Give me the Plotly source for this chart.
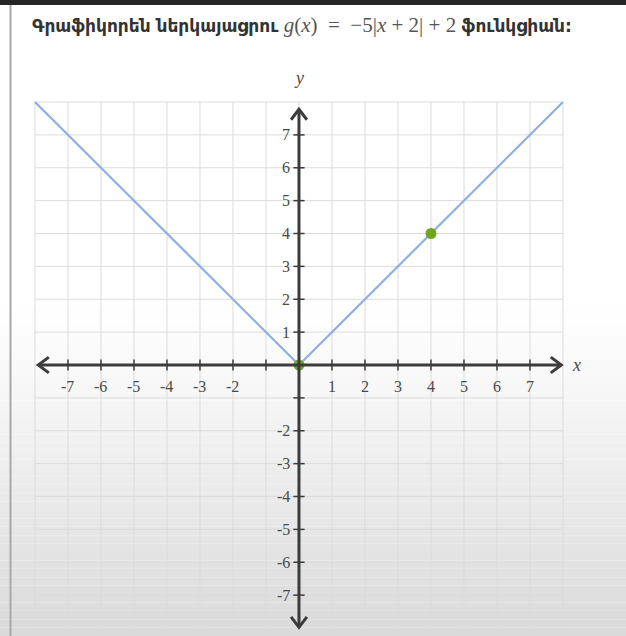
import plotly.graph_objects as go

# Graph of y = |x| with two highlighted points
line_x = [-8, 0, 8]
line_y = [8, 0, 8]
point_x = [0, 4]
point_y = [0, 4]

grid_vals = list(range(-8, 9))
x_tick_vals = [-7, -6, -5, -4, -3, -2, 1, 2, 3, 4, 5, 6, 7]
y_tick_vals = [7, 6, 5, 4, 3, 2, 1, -2, -3, -4, -5, -6, -7]
tick_marks = [v for v in range(-7, 8) if v != 0]

GRID = "#dcdcdc"
AXIS = "#3c3c3c"
LABEL = "#4a4a4a"
SERIF = "Liberation Serif, DejaVu Serif, serif"

W, H = 626, 636
X0, X1 = -9.06, 9.91
Y0, Y1 = -8.243, 11.103

fig = go.Figure()

shapes = []

# soft grey fade towards the bottom of the frame
n_bands = 40
top_px, bot_px = 300, H
for i in range(n_bands):
    t = i / (n_bands - 1)
    g = int(round(255 - 37 * t ** 1.1))
    y_top = 1 - (top_px + (bot_px - top_px) * i / n_bands) / H
    y_bot = 1 - (top_px + (bot_px - top_px) * (i + 1) / n_bands) / H
    shapes.append(dict(type="rect", xref="paper", yref="paper", x0=0, x1=1,
                       y0=y_bot, y1=y_top, line=dict(width=0),
                       fillcolor=f"rgb({g},{g},{g+1})", layer="below"))

# frame edges
shapes.append(dict(type="rect", xref="paper", yref="paper", x0=0, x1=1,
                   y0=1 - 5 / H, y1=1, line=dict(width=0),
                   fillcolor="#262626", layer="below"))
shapes.append(dict(type="line", xref="paper", yref="paper", x0=10.5 / W, x1=10.5 / W,
                   y0=0, y1=1 - 5 / H, line=dict(color="#a8a8a8", width=2),
                   layer="below"))

# grid
for v in grid_vals:
    shapes.append(dict(type="line", x0=v, x1=v, y0=-8, y1=8,
                       line=dict(color=GRID, width=1), layer="below"))
    shapes.append(dict(type="line", x0=-8, x1=8, y0=v, y1=v,
                       line=dict(color=GRID, width=1), layer="below"))

# axes
shapes.append(dict(type="line", x0=-7.9, x1=7.95, y0=0, y1=0,
                   line=dict(color=AXIS, width=3)))
shapes.append(dict(type="line", x0=0, x1=0, y0=-7.98, y1=7.78,
                   line=dict(color=AXIS, width=3)))

# tick crossbars
for v in tick_marks:
    shapes.append(dict(type="line", x0=v, x1=v, y0=-0.17, y1=0.17,
                       line=dict(color=AXIS, width=1.5)))
    shapes.append(dict(type="line", x0=-0.17, x1=0.17, y0=v, y1=v,
                       line=dict(color=AXIS, width=1.5)))

fig.update_layout(shapes=shapes)

# arrowheads at the axis ends
def chevron(tx, ty, dx, dy):
    # dx, dy: unit direction of the arrow
    back, half = 0.32, 0.24
    px, py = -dy, dx
    xs = [tx - dx * back + px * half, tx, tx - dx * back - px * half]
    ys = [ty - dy * back + py * half, ty, ty - dy * back - py * half]
    return xs, ys

for tx, ty, dx, dy in [(7.95, 0, 1, 0), (-7.9, 0, -1, 0), (0, 7.78, 0, 1), (0, -7.98, 0, -1)]:
    xs, ys = chevron(tx, ty, dx, dy)
    fig.add_trace(go.Scatter(x=xs, y=ys, mode="lines",
                             line=dict(color=AXIS, width=3),
                             hoverinfo="skip", showlegend=False))

# graph line
fig.add_trace(go.Scatter(x=line_x, y=line_y, mode="lines",
                         line=dict(color="#8eaee6", width=2.2),
                         hoverinfo="skip", showlegend=False))

# points
fig.add_trace(go.Scatter(x=point_x, y=point_y, mode="markers",
                         marker=dict(color="#6ea51f", size=11),
                         hoverinfo="skip", showlegend=False))

annotations = []
for v in x_tick_vals:
    annotations.append(dict(x=v, y=-0.66, text=str(v), showarrow=False,
                            xanchor="center", yanchor="middle",
                            font=dict(family=SERIF, size=16, color=LABEL)))
for v in y_tick_vals:
    annotations.append(dict(x=-0.22, y=v, text=str(v), showarrow=False,
                            xanchor="right", yanchor="middle",
                            font=dict(family=SERIF, size=16, color=LABEL)))

annotations.append(dict(x=8.42, y=0.0, text="<i>x</i>", showarrow=False,
                        xanchor="center", yanchor="middle",
                        font=dict(family=SERIF, size=18, color=LABEL)))
annotations.append(dict(x=0.0, y=8.72, text="<i>y</i>", showarrow=False,
                        xanchor="center", yanchor="middle",
                        font=dict(family=SERIF, size=18, color=LABEL)))

title = ("<b>Գրաֆիկորեն ներկայացրու</b> "
         "<span style='font-family:Liberation Serif, DejaVu Serif, serif;font-size:21px;color:#555'>"
         "<i>g</i>(<i>x</i>)&nbsp; = &nbsp;−5|<i>x</i> + 2| + 2</span> "
         "<b>ֆունկցիան:</b>")
annotations.append(dict(xref="paper", yref="paper", x=30 / W, y=1 - 25 / H,
                        text=title, showarrow=False,
                        xanchor="left", yanchor="middle",
                        font=dict(family="DejaVu Sans, Noto Sans, sans-serif",
                                  size=17, color="#333333")))

fig.update_layout(
    annotations=annotations,
    width=W, height=H, autosize=False,
    margin=dict(l=0, r=0, t=0, b=0),
    paper_bgcolor="white",
    plot_bgcolor="rgba(0,0,0,0)",
    xaxis=dict(range=[X0, X1], visible=False, fixedrange=True),
    yaxis=dict(range=[Y0, Y1], visible=False, fixedrange=True),
    showlegend=False,
)

fig.write_html("out.html")
